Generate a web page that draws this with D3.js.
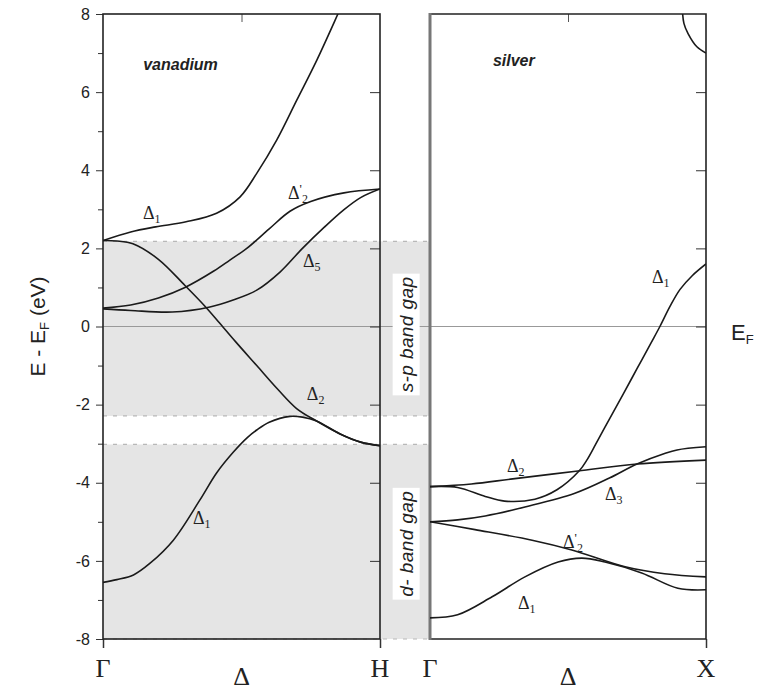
<!DOCTYPE html>
<html><head><meta charset="utf-8">
<script src="https://cdn.jsdelivr.net/npm/d3@7"></script>
<style>body{margin:0;background:#fff;} svg{display:block;}</style>
</head><body>
<svg id="c" width="760" height="690"></svg>
<script>
// ---------- data (t = fraction along Γ→H / Γ→X, E in eV) ----------
const yTicks = [-8,-6,-4,-2,0,2,4,6,8];
const yMinor = [-7,-5,-3,-1,1,3,5,7];
const gapBands = [[2.18,-2.29],[-3.02,-8]];
const gapNames = ["s-p band gap","d- band gap"];
const kLabelsV = ["Γ","Δ","H"];
const kLabelsS = ["Γ","Δ","X"];
const kPos = [0,0.5,1];

const vDelta1Up = [[0,2.2],[0.1,2.42],[0.19,2.55],[0.3,2.68],[0.41,2.9],[0.495,3.32],[0.555,3.92],[0.627,4.77],[0.70,5.8],[0.772,6.82],[0.848,8.0],[0.87,8.35]];
const vDelta2p = [[0,0.47],[0.1,0.55],[0.2,0.73],[0.296,1.0],[0.4,1.42],[0.458,1.7],[0.519,2.0],[0.6,2.5],[0.675,2.95],[0.75,3.2],[0.87,3.42],[1,3.52]];
const vDelta5 = [[0,0.45],[0.1,0.41],[0.25,0.37],[0.386,0.5],[0.47,0.68],[0.555,0.93],[0.64,1.4],[0.72,2.0],[0.8,2.55],[0.868,2.98],[0.93,3.3],[1,3.52]];
const vDelta2 = [[0,2.2],[0.05,2.19],[0.108,2.12],[0.2,1.72],[0.296,1.05],[0.368,0.52],[0.416,0.13],[0.48,-0.4],[0.555,-1.0],[0.63,-1.6],[0.699,-2.1],[0.771,-2.42],[0.856,-2.75],[0.93,-2.96],[1,-3.05]];
const vDelta1Low = [[0,-6.55],[0.05,-6.48],[0.11,-6.36],[0.17,-6.06],[0.254,-5.47],[0.35,-4.44],[0.41,-3.75],[0.47,-3.22],[0.52,-2.85],[0.555,-2.65],[0.6,-2.45],[0.675,-2.3],[0.72,-2.32],[0.771,-2.42],[0.856,-2.75],[0.93,-2.96],[1,-3.05]];

const sDelta1Up = [[0,-4.1],[0.1,-4.12],[0.2,-4.35],[0.27,-4.47],[0.38,-4.42],[0.46,-4.18],[0.54,-3.7],[0.57,-3.4],[0.6,-3.02],[0.65,-2.37],[0.7,-1.73],[0.75,-1.08],[0.8,-0.43],[0.833,0],[0.87,0.52],[0.906,0.95],[0.95,1.3],[1,1.6]];
const sDelta2 = [[0,-4.1],[0.15,-4.03],[0.3,-3.9],[0.536,-3.7],[0.75,-3.52],[1,-3.42]];
const sDelta3 = [[0,-5.0],[0.1,-4.95],[0.2,-4.85],[0.344,-4.62],[0.525,-4.27],[0.65,-3.88],[0.75,-3.52],[0.85,-3.25],[0.895,-3.16],[1,-3.08]];
const sDelta2p = [[0,-5.0],[0.163,-5.2],[0.37,-5.47],[0.514,-5.72],[0.707,-6.15],[0.85,-6.33],[1,-6.41]];
const sDelta1Low = [[0,-7.46],[0.1,-7.38],[0.225,-6.92],[0.344,-6.41],[0.464,-6.03],[0.55,-5.93],[0.634,-6.03],[0.767,-6.31],[0.898,-6.7],[1,-6.74]];
const sUpperX = [[0.913,8.3],[0.92,7.76],[0.935,7.5],[0.967,7.16],[1,7.0]];

// band labels: [t, E, sub, prime]
const vLabels = [[0.144,2.75,"1",""],[0.668,3.26,"2","'"],[0.722,1.52,"5",""],[0.736,-1.88,"2",""],[0.325,-5.06,"1",""]];
const sLabels = [[0.279,-3.72,"2",""],[0.634,-4.44,"3",""],[0.482,-5.67,"2","'"],[0.319,-7.23,"1",""],[0.804,1.11,"1",""]];

// ---------- scales ----------
const svg = d3.select("#c");
const y = d3.scaleLinear().domain([-8,8]).range([639,14]);
const xV = d3.scaleLinear().domain([0,1]).range([103,380]);
const xS = d3.scaleLinear().domain([0,1]).range([430,706]);
const SANS = "'Liberation Sans', Arial, sans-serif";
const SERIF = "'Liberation Serif', 'Times New Roman', serif";

// ---------- gap bands ----------
svg.append("g").selectAll("rect").data(gapBands).join("rect")
  .attr("x", xV(0)).attr("width", xS(0) - xV(0))
  .attr("y", d => y(d[0])).attr("height", d => y(d[1]) - y(d[0]))
  .attr("fill", "#e5e5e5");
const bounds = gapBands.flat();
svg.append("g").selectAll("line").data(bounds).join("line")
  .attr("x1", xV(0)).attr("x2", xS(0))
  .attr("y1", d => y(d)).attr("y2", d => y(d))
  .attr("stroke", "#b8b8b8").attr("stroke-width", 1.2).attr("stroke-dasharray", "4,6");

// zero line
svg.append("line").attr("x1", xV(0)).attr("x2", xS(1)).attr("y1", y(0)).attr("y2", y(0))
  .attr("stroke", "#999").attr("stroke-width", 1.2);

// strip labels
gapBands.forEach((b, i) => {
  const cy = i === 0 ? y(0) + 8 : (y(b[0]) + y(b[1])) / 2 + 2;
  const cx = (xV(1) + xS(0)) / 2 + 1;
  const g = svg.append("g").attr("transform", `translate(${cx},${cy}) rotate(-90)`);
  const t = g.append("text").attr("text-anchor", "middle").attr("dy", "0.35em")
    .attr("font-family", SANS).attr("font-style", "italic").attr("font-size", 19)
    .attr("letter-spacing", 0.4).attr("fill", "#222").text(gapNames[i]);
  const bb = t.node().getBBox();
  g.insert("rect", "text").attr("x", bb.x - 3).attr("y", bb.y - 3)
    .attr("width", bb.width + 6).attr("height", bb.height + 6).attr("fill", "#fff");
});

// ---------- axes ----------
const fmt = d => String(d);
svg.append("g").attr("transform", `translate(${xV(0)},0)`)
  .call(d3.axisLeft(y).tickValues(yTicks).tickSize(7).tickPadding(6).tickFormat(fmt))
  .call(g => { g.select(".domain").remove(); g.selectAll("text").attr("font-family", SANS).attr("font-size", 16).attr("fill", "#222"); g.selectAll("line").attr("stroke", "#333"); });
svg.append("g").attr("transform", `translate(${xV(0)},0)`)
  .call(d3.axisLeft(y).tickValues(yMinor).tickSize(5).tickFormat(""))
  .call(g => { g.select(".domain").remove(); g.selectAll("line").attr("stroke", "#333"); });
const inner = yTicks.slice(1, -1);
[xV(1), xS(1)].forEach(px => {
  svg.append("g").attr("transform", `translate(${px},0)`)
    .call(d3.axisLeft(y).tickValues(inner).tickSize(10).tickFormat(""))
    .call(g => { g.select(".domain").remove(); g.selectAll("line").attr("stroke", "#333"); });
});
[xV, xS].forEach((xs, i) => {
  svg.append("g").attr("transform", `translate(0,${y(8)})`)
    .call(d3.axisBottom(xs).tickValues([0.5]).tickSize(8).tickFormat(""))
    .call(g => { g.select(".domain").remove(); g.selectAll("line").attr("stroke", "#555"); });
  svg.append("g").attr("transform", `translate(0,${y(-8)})`)
    .call(d3.axisBottom(xs).tickValues(i === 0 ? [0, 1] : [1]).tickSize(9).tickFormat(""))
    .call(g => { g.select(".domain").remove(); g.selectAll("line").attr("stroke", "#333").attr("stroke-width", 1.5); });
  const labs = i === 0 ? kLabelsV : kLabelsS;
  svg.append("g").selectAll("text").data(kPos).join("text")
    .attr("x", d => xs(d)).attr("y", (d, j) => labs[j] === "Δ" ? 685 : 677)
    .attr("text-anchor", "middle").attr("font-family", SERIF).attr("font-size", 26)
    .attr("fill", "#222").text((d, j) => labs[j]);
});

// ---------- frames ----------
svg.append("rect").attr("x", xV(0)).attr("y", y(8)).attr("width", xV(1) - xV(0)).attr("height", y(-8) - y(8))
  .attr("fill", "none").attr("stroke", "#222").attr("stroke-width", 1.6);
svg.append("path").attr("d", `M${xS(0)},${y(8)}H${xS(1)}V${y(-8)}H${xS(0)}`)
  .attr("fill", "none").attr("stroke", "#222").attr("stroke-width", 1.6);
svg.append("line").attr("x1", xS(0)).attr("x2", xS(0)).attr("y1", y(8) - 1).attr("y2", y(-8) + 1)
  .attr("stroke", "#777").attr("stroke-width", 3);

// ---------- curves ----------
const defs = svg.append("defs");
[["clipV", xV], ["clipS", xS]].forEach(([id, xs]) => {
  defs.append("clipPath").attr("id", id).append("rect")
    .attr("x", xs(0)).attr("y", y(8)).attr("width", xs(1) - xs(0)).attr("height", y(-8) - y(8));
});
function drawBands(bands, xs, clip) {
  const line = d3.line().x(d => xs(d[0])).y(d => y(d[1])).curve(d3.curveCatmullRom.alpha(0.5));
  svg.append("g").attr("clip-path", `url(#${clip})`).selectAll("path").data(bands).join("path")
    .attr("d", line).attr("fill", "none").attr("stroke", "#1a1a1a").attr("stroke-width", 1.6);
}
drawBands([vDelta1Up, vDelta2p, vDelta5, vDelta2, vDelta1Low], xV, "clipV");
drawBands([sDelta1Up, sDelta2, sDelta3, sDelta2p, sDelta1Low, sUpperX], xS, "clipS");

// band labels
function drawLabels(labels, xs) {
  labels.forEach(([t, e, sub, prime]) => {
    const txt = svg.append("text").attr("x", xs(t)).attr("y", y(e))
      .attr("font-family", SERIF).attr("font-size", 18).attr("fill", "#222");
    txt.append("tspan").text("Δ");
    if (prime) txt.append("tspan").attr("font-size", 13).attr("dy", -6).text("'");
    txt.append("tspan").attr("font-size", 12).attr("dy", prime ? 10 : 4).text(sub);
  });
}
drawLabels(vLabels, xV);
drawLabels(sLabels, xS);

// panel titles
svg.append("text").attr("x", xV(0.145)).attr("y", y(6.57))
  .attr("font-family", SANS).attr("font-weight", "bold").attr("font-style", "italic").attr("font-size", 16)
  .attr("fill", "#222").text("vanadium");
svg.append("text").attr("x", xS(0.228)).attr("y", y(6.67))
  .attr("font-family", SANS).attr("font-weight", "bold").attr("font-style", "italic").attr("font-size", 16)
  .attr("fill", "#222").text("silver");

// y-axis title
const yt = svg.append("text").attr("transform", `translate(45,${y(0)}) rotate(-90)`)
  .attr("text-anchor", "middle").attr("font-family", SANS).attr("font-size", 21).attr("fill", "#222");
yt.append("tspan").text("E - E");
yt.append("tspan").attr("font-size", 13).attr("dy", 4).text("F");
yt.append("tspan").attr("dy", -4).text(" (eV)");

// E_F label on right
const ef = svg.append("text").attr("x", 731).attr("y", y(0) + 13)
  .attr("font-family", SANS).attr("font-size", 22).attr("fill", "#222");
ef.append("tspan").text("E");
ef.append("tspan").attr("font-size", 13).attr("dy", 4).text("F");
</script></body></html>
